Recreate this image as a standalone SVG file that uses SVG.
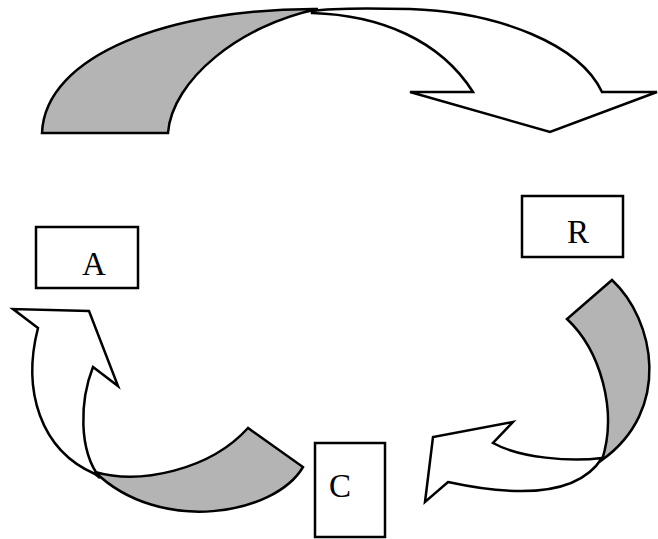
<svg xmlns="http://www.w3.org/2000/svg" width="658" height="539" viewBox="0 0 658 539">
<style>
.w{fill:#ffffff;stroke:#000;stroke-width:2.5;stroke-linejoin:miter}
.g{fill:#b4b4b4;stroke:#000;stroke-width:2.5;stroke-linejoin:miter}
.box{fill:#ffffff;stroke:#000;stroke-width:2.5}
.lbl{font-family:"Liberation Serif","Times New Roman",serif;font-size:33px;fill:#000;text-anchor:middle}
</style>
<rect width="658" height="539" fill="#ffffff"/>
<g id="connectors">
  <g id="arrow-top">
    <path class="w" d="M312,11 C330,8 370,8 410,9 C500,12 580,45 602,92 L657,92 L550,132 L410,92 L473,92 C440,40 380,15 312,13 Z"/>
    <path class="g" d="M42,133 C45,55 170,8 318,9 C240,25 172,80 168,133 Z"/>
  </g>
  <g id="arrow-right">
    <path class="w" d="M602,458 C585,485 545,503 448,482 L425,502 L433,437 L513,422 L493,443 C520,458 570,462 602,458 Z"/>
    <path class="g" d="M612,280 C655,320 672,410 602,460 C618,410 600,350 567,319 Z"/>
  </g>
  <g id="arrow-left">
    <path class="w" d="M95,474 C40,450 22,390 38,328 L13,309 L89,311 L118,386 L93,367 C80,400 78,450 100,478 Z"/>
    <path class="g" d="M95,472 C140,485 210,470 248,428 L303,467 C275,515 160,535 95,472 Z"/>
  </g>
</g>
<g id="node-A">
  <rect class="box" x="36" y="227" width="102" height="61"/>
  <text class="lbl" x="94" y="275">A</text>
</g>
<g id="node-B">
  <rect class="box" x="522" y="196" width="101" height="61"/>
  <text class="lbl" x="578" y="243">R</text>
</g>
<g id="node-C">
  <rect class="box" x="315" y="443" width="70" height="94"/>
  <text class="lbl" x="340" y="497">C</text>
</g>
</svg>
